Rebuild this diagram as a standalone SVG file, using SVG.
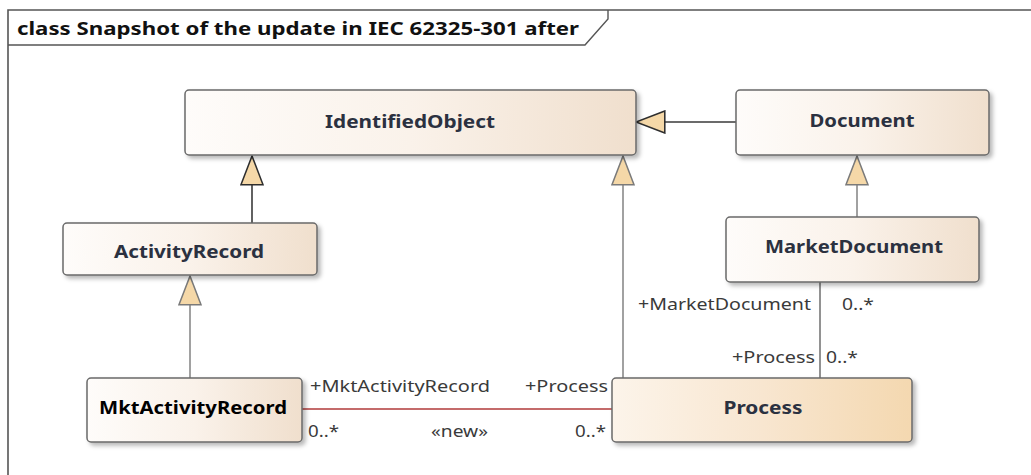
<svg xmlns="http://www.w3.org/2000/svg" width="1031" height="475" viewBox="0 0 1031 475">
<style>
.box{stroke:#6a6a6a;stroke-width:1.5;filter:url(#sh)}
.nl{font-family:"Noto Sans","DejaVu Sans",sans-serif;font-weight:bold;font-size:18px;fill:#2b3140;text-anchor:middle}
.rl{font-family:"Noto Sans","DejaVu Sans",sans-serif;font-size:17px;fill:#3a3a3a}
.gd{fill:none;stroke:#3a3a3a;stroke-width:1.6}
.gg{fill:none;stroke:#8a8a8a;stroke-width:1.6}
.as{fill:none;stroke:#6e6e6e;stroke-width:1.5}
.ar{fill:none;stroke:#b03a3a;stroke-width:1.6}
</style>
<defs>
<linearGradient id="g1" x1="0" y1="0" x2="1" y2="0">
<stop offset="0" stop-color="#fefcfa"/><stop offset="0.5" stop-color="#faf2ea"/><stop offset="1" stop-color="#f0dfcd"/>
</linearGradient>
<linearGradient id="g2" x1="0" y1="0" x2="1" y2="0">
<stop offset="0" stop-color="#fcf4ea"/><stop offset="0.5" stop-color="#f8e6d0"/><stop offset="1" stop-color="#f4d8b0"/>
</linearGradient>
<filter id="sh" x="-5%" y="-10%" width="115%" height="130%">
<feDropShadow dx="3" dy="3" stdDeviation="2" flood-color="#000" flood-opacity="0.28"/>
</filter>
<marker id="td" markerUnits="userSpaceOnUse" markerWidth="32" markerHeight="24" viewBox="-1 -1 32 25" refX="30" refY="11.5" orient="auto">
<path d="M0,0 L30,11.5 L0,23 Z" fill="#f5d8a8" stroke="#2e2e2e" stroke-width="1.6" stroke-linejoin="miter"/>
</marker>
<marker id="tg" markerUnits="userSpaceOnUse" markerWidth="32" markerHeight="24" viewBox="-1 -1 32 25" refX="30" refY="11.5" orient="auto">
<path d="M0,0 L30,11.5 L0,23 Z" fill="#f5d8a8" stroke="#7a7a7a" stroke-width="1.6" stroke-linejoin="miter"/>
</marker>
</defs>
<rect width="1031" height="475" fill="#ffffff"/>
<g id="frame">
<path d="M8,475 L8,10 L1031,10" fill="none" stroke="#555" stroke-width="1.6"/>
<path d="M8,45 L585,45 L608,19 L608,10" fill="none" stroke="#555" stroke-width="1.4"/>
<text x="17" y="35" font-family="'Noto Sans','DejaVu Sans',sans-serif" font-weight="bold" font-size="17" fill="#111" textLength="562" lengthAdjust="spacingAndGlyphs">class Snapshot of the update in IEC 62325-301 after</text>
</g>
<g id="connectors">
<path class="gd" d="M736,122 L636,122" marker-end="url(#td)"/>
<path class="gd" d="M252,223 L252,156" marker-end="url(#td)"/>
<path class="gg" d="M623,378 L623,156" marker-end="url(#tg)"/>
<path class="gg" d="M857,217 L857,156" marker-end="url(#tg)"/>
<path class="gg" d="M190,378 L190,276" marker-end="url(#tg)"/>
<path class="as" d="M820,282 L820,378"/>
<path class="ar" d="M302,409 L612,409"/>
<text class="rl" x="638" y="310" textLength="173" lengthAdjust="spacingAndGlyphs">+MarketDocument</text>
<text class="rl" x="842" y="310" textLength="32" lengthAdjust="spacingAndGlyphs">0..*</text>
<text class="rl" x="732" y="363" textLength="83" lengthAdjust="spacingAndGlyphs">+Process</text>
<text class="rl" x="826" y="363" textLength="32" lengthAdjust="spacingAndGlyphs">0..*</text>
<text class="rl" x="310" y="392" textLength="180" lengthAdjust="spacingAndGlyphs">+MktActivityRecord</text>
<text class="rl" x="525" y="392" textLength="83" lengthAdjust="spacingAndGlyphs">+Process</text>
<text class="rl" x="308" y="437" textLength="31" lengthAdjust="spacingAndGlyphs">0..*</text>
<text class="rl" x="431" y="437" textLength="57" lengthAdjust="spacingAndGlyphs">«new»</text>
<text class="rl" x="575" y="437" textLength="31" lengthAdjust="spacingAndGlyphs">0..*</text>
</g>
<g id="IdentifiedObject">
<rect class="box" x="185" y="90" width="451" height="65" rx="4" fill="url(#g1)"/>
<text class="nl" x="410" y="128" textLength="170" lengthAdjust="spacingAndGlyphs">IdentifiedObject</text>
</g>
<g id="Document">
<rect class="box" x="736" y="90" width="253" height="65" rx="4" fill="url(#g1)"/>
<text class="nl" x="862" y="127" textLength="105" lengthAdjust="spacingAndGlyphs">Document</text>
</g>
<g id="ActivityRecord">
<rect class="box" x="63" y="223" width="254" height="52" rx="4" fill="url(#g1)"/>
<text class="nl" x="189" y="258" textLength="150" lengthAdjust="spacingAndGlyphs">ActivityRecord</text>
</g>
<g id="MarketDocument">
<rect class="box" x="726" y="217" width="253" height="65" rx="4" fill="url(#g1)"/>
<text class="nl" x="854" y="253" textLength="178" lengthAdjust="spacingAndGlyphs">MarketDocument</text>
</g>
<g id="MktActivityRecord">
<rect class="box" x="87" y="378" width="215" height="64" rx="4" fill="url(#g1)"/>
<text class="nl" x="193" y="414" textLength="188" lengthAdjust="spacingAndGlyphs" style="fill:#000">MktActivityRecord</text>
</g>
<g id="Process">
<rect class="box" x="612" y="378" width="300" height="64" rx="4" fill="url(#g2)"/>
<text class="nl" x="763" y="414" textLength="79" lengthAdjust="spacingAndGlyphs">Process</text>
</g>
</svg>
